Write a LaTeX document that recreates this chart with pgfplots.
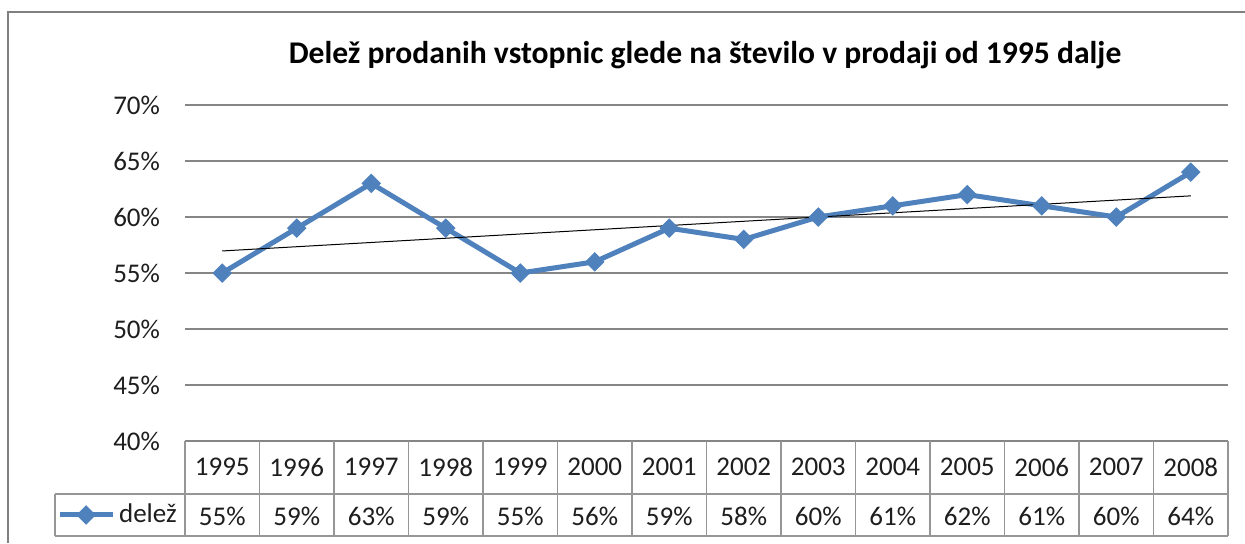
\documentclass[border=0pt]{standalone}
\usepackage{pgfplots}
\pgfplotsset{compat=1.18}
\usepackage{fontspec}
\setmainfont{Carlito}
\definecolor{exblue}{RGB}{79,129,189}
\definecolor{gridgray}{RGB}{134,134,134}
\definecolor{tabgray}{RGB}{150,150,150}
\definecolor{framegray}{RGB}{128,128,128}
\definecolor{txt}{RGB}{30,30,30}
\begin{document}
\begin{tikzpicture}[x=0.5pt,y=-0.5pt]
\useasboundingbox (0,0) rectangle (1245,543);
\fill[white] (0,0) rectangle (1245,543);
\draw[framegray, line width=1.2pt] (8,543) -- (8,12) -- (1245,12);
\node[font=\bfseries\fontsize{15.8}{18}\selectfont] at (705,55) {Delež prodanih vstopnic glede na število v prodaji od 1995 dalje};
\begin{axis}[at={(92.5pt,-220.5pt)}, anchor=south west, scale only axis,
  width=521.5pt, height=168pt,
  xmin=-0.5, xmax=13.5, ymin=40, ymax=70,
  ytick={40,45,...,70},
  yticklabel={\pgfmathprintnumber{\tick}\%},
  /pgf/number format/assume math mode=true,
  yticklabel style={font=\fontsize{13.5}{16}\selectfont, text=txt, anchor=east, xshift=-9pt},
  xtick=\empty,
  axis line style={draw=none},
  major tick length=0pt,
  ymajorgrids, grid style={gridgray, line width=0.8pt},
  clip=false,
  legend style={at={(-0.123,-0.22)}, anchor=west, draw=none, fill=none,
    inner sep=0pt, font=\fontsize{13.5}{16}\selectfont, text=txt},
  legend image code/.code={\draw[mark repeat=2,mark phase=2] plot coordinates {(0pt,0pt) (13.25pt,0pt) (26.5pt,0pt)};},
]
\addplot[exblue, line width=2.5pt, mark=square*, mark size=3.2pt, mark options={line width=0.5pt, fill=exblue, rotate=45}]
  coordinates {(0,55) (1,59) (2,63) (3,59) (4,55) (5,56) (6,59) (7,58) (8,60) (9,61) (10,62) (11,61) (12,60) (13,64)};
\addlegendentry{delež}
\addplot[black, line width=0.5pt, forget plot] coordinates {(0,56.97) (13,61.89)};
\end{axis}
\draw[tabgray, line width=0.7pt] (55,494) -- (1228,494) (55,536) -- (1228,536) (55,494) -- (55,536);
\foreach \k in {0,...,14} {\draw[tabgray, line width=0.7pt] ({185+74.5*\k},441) -- ({185+74.5*\k},536);}
\foreach \i/\yr/\v in {0/1995/55,1/1996/59,2/1997/63,3/1998/59,4/1999/55,5/2000/56,6/2001/59,7/2002/58,8/2003/60,9/2004/61,10/2005/62,11/2006/61,12/2007/60,13/2008/64} {
  \node[font=\fontsize{13.5}{16}\selectfont, text=txt] at ({222.25+74.5*\i},467) {\yr};
  \node[font=\fontsize{13.5}{16}\selectfont, text=txt] at ({222.25+74.5*\i},516) {\v\%};
}
\end{tikzpicture}
\end{document}
